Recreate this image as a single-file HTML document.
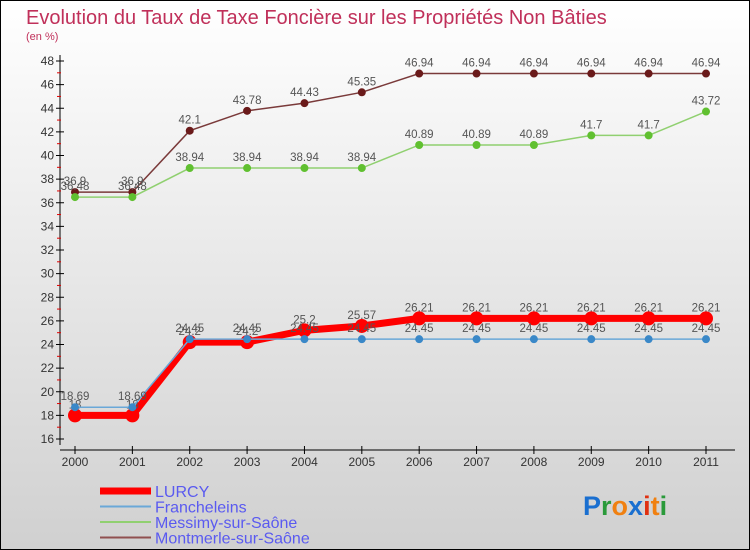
<!DOCTYPE html>
<html><head><meta charset="utf-8"><style>
body{margin:0}
svg{display:block;font-family:"Liberation Sans",sans-serif}
</style></head><body>
<svg id="c" width="750" height="550" viewBox="0 0 750 550">
<defs><linearGradient id="bg" x1="0" y1="0" x2="0" y2="1"><stop offset="0" stop-color="#ffffff"/><stop offset="1" stop-color="#d0d0d0"/></linearGradient></defs>
<rect x="0.5" y="0.5" width="749" height="549" fill="url(#bg)" stroke="#000"/>
<text x="26" y="24" font-size="20" fill="#c0305a">Evolution du Taux de Taxe Foncière sur les Propriétés Non Bâties</text>
<text x="26" y="40" font-size="11" fill="#c0305a">(en %)</text>
<g id="axes"></g><g id="series"></g><g id="legend"></g>
<text x="583" y="515" font-size="27" font-weight="bold"><tspan fill="#1a6fd0">P</tspan><tspan fill="#2a9a3a">r</tspan><tspan fill="#f08010">o</tspan><tspan fill="#1a6fd0">x</tspan><tspan fill="#e03010">i</tspan><tspan fill="#f08010">t</tspan><tspan fill="#2a9a3a">i</tspan></text>
</svg>
<script>
const years=[2000,2001,2002,2003,2004,2005,2006,2007,2008,2009,2010,2011];
const yTicks=[16,18,20,22,24,26,28,30,32,34,36,38,40,42,44,46,48];
const lurcy=[18,18,24.2,24.2,25.2,25.57,26.21,26.21,26.21,26.21,26.21,26.21];
const francheleins=[18.69,18.69,24.45,24.45,24.45,24.45,24.45,24.45,24.45,24.45,24.45,24.45];
const messimy=[36.48,36.48,38.94,38.94,38.94,38.94,40.89,40.89,40.89,41.7,41.7,43.72];
const montmerle=[36.9,36.9,42.1,43.78,44.43,45.35,46.94,46.94,46.94,46.94,46.94,46.94];
const names=["LURCY","Francheleins","Messimy-sur-Saône","Montmerle-sur-Saône"];
const NS="http://www.w3.org/2000/svg";
const X=i=>75+i*(706-75)/(years.length-1);
const Y=v=>439-(v-16)*(439-61)/32;
function mk(t,a,p){const e=document.createElementNS(NS,t);for(const k in a)e.setAttribute(k,a[k]);p.appendChild(e);return e;}
const ax=document.getElementById('axes');
mk('line',{x1:60,y1:Y(48)-6,x2:60,y2:445,stroke:'#000'},ax);
yTicks.forEach((t,i)=>{
 const l=mk('line',{x1:56,x2:64,y1:Y(t),y2:Y(t),stroke:'#000'},ax);
 
 if(i<yTicks.length-1){mk('line',{x1:57,x2:61,y1:Y(t+1),y2:Y(t+1),stroke:'#e00000'},ax);}
 const tx=mk('text',{x:54,y:Y(t)+4,'font-size':12,fill:'#333','text-anchor':'end'},ax);tx.textContent=t;
 
});
mk('line',{x1:60,y1:450,x2:735,y2:450,stroke:'#000'},ax);
years.forEach((y,i)=>{
 mk('line',{x1:X(i),x2:X(i),y1:446,y2:454,stroke:'#000'},ax);
 const tx=mk('text',{x:X(i),y:466,'font-size':12,fill:'#333','text-anchor':'middle'},ax);tx.textContent=y;
 
});
const sg=document.getElementById('series');
const cfg=[[montmerle,'#7a3a3a','#6a1a1a',1.5,4,'montmerle'],[messimy,'#90d070','#60c030',1.5,4,'messimy'],[lurcy,'#ff0000','#ff0000',7,7,'lurcy'],[francheleins,'#6aa8d8','#3a88c8',1.5,4,'francheleins']];
cfg.forEach(([d,lc,pc,w,r,n])=>{
 const g=mk('g',{},sg);
 mk('polyline',{points:d.map((v,i)=>X(i)+','+Y(v)).join(' '),fill:'none',stroke:lc,'stroke-width':w},g);
 d.forEach((v,i)=>{const c=mk('circle',{cx:X(i),cy:Y(v),r:r,fill:pc},g);
  
  const t=mk('text',{x:X(i),y:Y(v)-7,'font-size':11.5,fill:'#555','text-anchor':'middle'},g);t.textContent=v;});
});
const lg=document.getElementById('legend');
const lc=[['#ff0000',7],['#6aa8d8',2],['#90d070',2],['#905050',2]];
names.forEach((n,i)=>{const y=491+i*15.5;
 const g=mk('g',{},lg);
 mk('line',{x1:100,x2:151,y1:y,y2:y,stroke:lc[i][0],'stroke-width':lc[i][1]},g);
 const t=mk('text',{x:155,y:y+6,'font-size':16,fill:'#5a5af0'},g);t.textContent=n;});
</script>
</body></html>
